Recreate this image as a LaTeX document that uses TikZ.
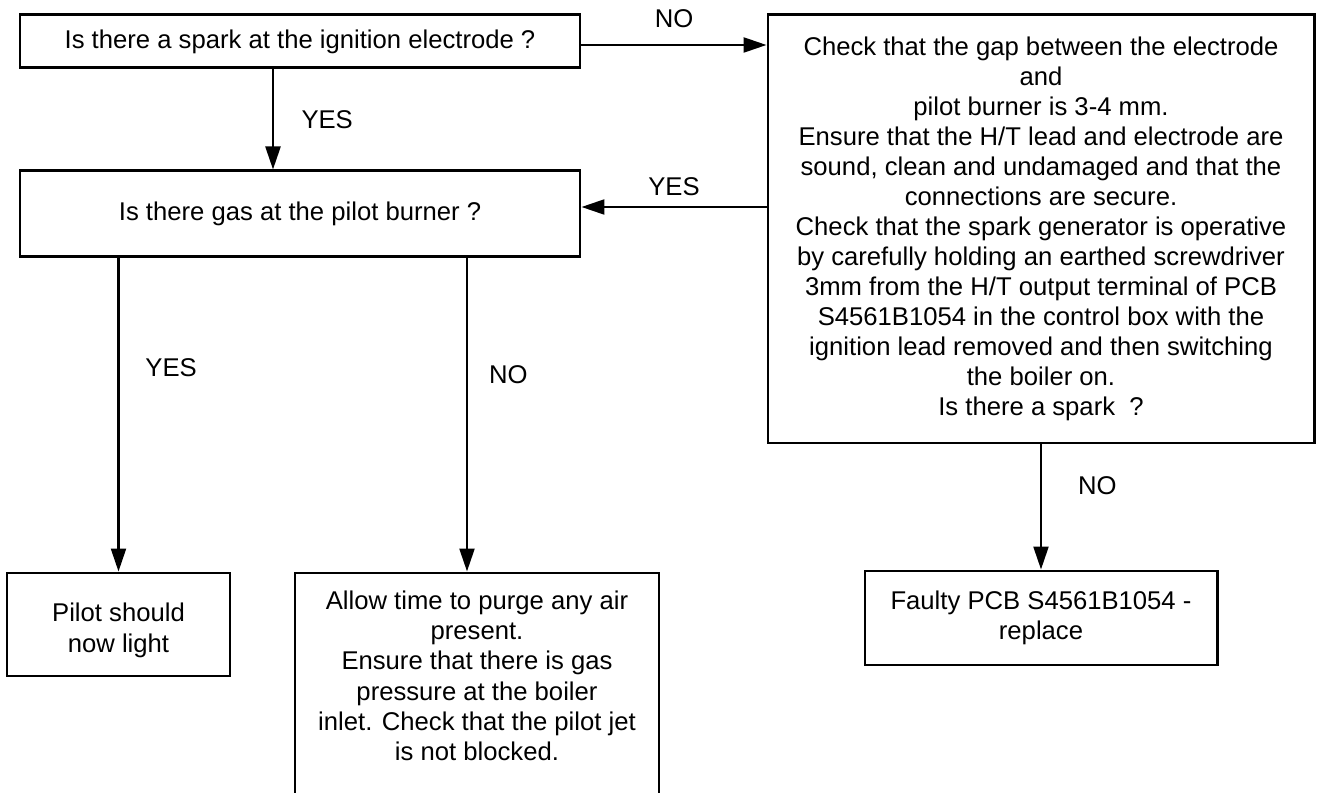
\documentclass[tikz,border=0pt]{standalone}
\usepackage{fontspec}
\setmainfont{Liberation Sans}
\usepackage{tikz}
\usetikzlibrary{arrows.meta}

\begin{document}
\begin{tikzpicture}[>={Triangle[length=0.46cm,width=0.3cm]},
box/.style={draw,line width=1.7pt,align=center,inner sep=0pt,font=\fontsize{14.6pt}{17.1pt}\selectfont},
lbl/.style={font=\fontsize{14.6pt}{17.1pt}\selectfont},
arr/.style={->,line width=1.3pt}]
\useasboundingbox (0,0) rectangle (26.34,-15.86);
\node[box,minimum width=11.2cm,minimum height=1.06cm](spark) at (6.0,-0.83){Is there a spark at the ignition electrode ?};
\node[box,minimum width=11.2cm,minimum height=1.72cm](gas) at (6.0,-4.28){Is there gas at the pilot burner ?};
\node[box,minimum width=10.92cm,minimum height=8.56cm](check) at (20.82,-4.58){Check that the gap between the electrode\\
and\\
pilot burner is 3-4 mm.\\
Ensure that the H/T lead and electrode are\\
sound, clean and undamaged and that the\\
connections are secure.\\
Check that the spark generator is operative\\
by carefully holding an earthed screwdriver\\
3mm from the H/T output terminal of PCB\\
S4561B1054 in the control box with the\\
ignition lead removed and then switching\\
the boiler on.\\
Is there a spark~ ?};
\node[box,minimum width=4.46cm,minimum height=2.06cm](pilot) at (2.37,-12.49){\begin{tabular}{@{}c@{}}Pilot should\\ now light\\[-0.26cm]\end{tabular}};
\node[box,minimum width=7.28cm,minimum height=4.54cm](allow) at (9.54,-13.73){\begin{tabular}{@{}c@{}}Allow time to purge any air\\
present.\\
Ensure that there is gas\\
pressure at the boiler\\
inlet. Check that the pilot jet\\
is not blocked.\\[0.3cm]\end{tabular}};
\node[box,minimum width=7.04cm,minimum height=1.88cm](faulty) at (20.82,-12.36){Faulty PCB S4561B1054 -\\ replace};
\draw[arr]([xshift=-0.54cm]spark.south) -- node[lbl,right=0.43cm]{YES} ([xshift=-0.54cm]gas.north);
\draw[arr]([yshift=-0.07cm]spark.east) -- node[lbl,above=0.2cm]{NO} ([yshift=-0.07cm]spark.east -| check.west);
\draw[arr]([yshift=0.14cm]gas.east -| check.west) -- node[lbl,above=0.08cm]{YES} ([yshift=0.14cm]gas.east);
\draw[arr](gas.south -| pilot.north) -- node[lbl,pos=0.35,right=0.4cm]{YES} (pilot.north);
\draw[arr]([xshift=-0.2cm]allow.north |- gas.south) -- node[lbl,pos=0.37,right=0.3cm]{NO} ([xshift=-0.2cm]allow.north);
\draw[arr](check.south) -- node[lbl,pos=0.33,right=0.6cm]{NO} (faulty.north);
\end{tikzpicture}
\end{document}
